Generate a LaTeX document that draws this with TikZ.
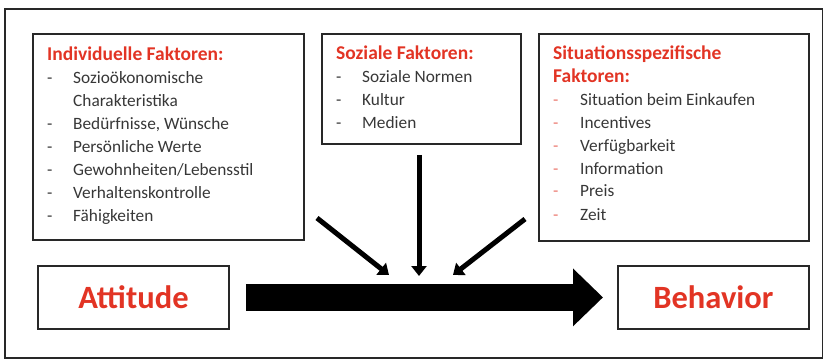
\documentclass[tikz,border=0pt]{standalone}
\usepackage{fontspec}
\setmainfont{Carlito}
\usetikzlibrary{arrows.meta}
\definecolor{fred}{RGB}{226,52,36}
\definecolor{ftxt}{RGB}{55,55,55}
\definecolor{fline}{RGB}{40,40,40}
\definecolor{fdash}{RGB}{235,120,110}
\newcommand{\hd}[1]{\textcolor{fred}{\fontsize{19.5}{23}\selectfont\bfseries #1}}
\begin{document}
\begin{tikzpicture}[x=1pt,y=-1pt,
  framebox/.style={draw=fline,line width=1.8pt,rectangle,inner sep=0pt,anchor=north west},
  listtext/.style={anchor=base west,inner sep=0pt,text=ftxt,font=\fontsize{17.3}{23}\selectfont},
  bigtext/.style={text=fred,font=\fontsize{32.5}{40}\selectfont\bfseries},
  infl/.style={draw=black,line width=5pt,-{Triangle[length=10pt,width=15pt]}},
  mainarrow/.style={draw=black,line width=27pt,-{Triangle[length=30pt,width=56pt]}}]

\useasboundingbox (0,0) rectangle (823,359);
\node[framebox,line width=2pt,minimum width=818pt,minimum height=349pt] (frame) at (4,8) {};

% factor boxes
\node[framebox,minimum width=271pt,minimum height=206pt] (ind) at (32,33) {};
\node[framebox,minimum width=199pt,minimum height=110pt] (soz) at (321,33) {};
\node[framebox,minimum width=270pt,minimum height=207pt] (sit) at (538,33) {};

\node[listtext] (indtxt) at (47,60) {\renewcommand{\arraystretch}{1}%
\begin{tabular}[t]{@{}p{26pt}@{}l@{}}
\multicolumn{2}{@{}l@{}}{\hd{Individuelle Faktoren:}}\\
- & Sozioökonomische\\
  & Charakteristika\\
- & Bedürfnisse, Wünsche\\
- & Persönliche Werte\\
- & Gewohnheiten/Lebensstil\\
- & Verhaltenskontrolle\\
- & Fähigkeiten
\end{tabular}};

\node[listtext] (soztxt) at (336,59) {\renewcommand{\arraystretch}{1}%
\begin{tabular}[t]{@{}p{26pt}@{}l@{}}
\multicolumn{2}{@{}l@{}}{\hd{Soziale Faktoren:}}\\
- & Soziale Normen\\
- & Kultur\\
- & Medien
\end{tabular}};

\node[listtext] (sittxt) at (553,59) {\renewcommand{\arraystretch}{1}%
\begin{tabular}[t]{@{}p{27pt}@{}l@{}}
\multicolumn{2}{@{}l@{}}{\hd{Situationsspezifische}}\\
\multicolumn{2}{@{}l@{}}{\hd{Faktoren:}}\\
\textcolor{fdash}{-} & Situation beim Einkaufen\\
\textcolor{fdash}{-} & Incentives\\
\textcolor{fdash}{-} & Verfügbarkeit\\
\textcolor{fdash}{-} & Information\\
\textcolor{fdash}{-} & Preis\\
\textcolor{fdash}{-} & Zeit
\end{tabular}};

% attitude / behavior
\node[framebox,minimum width=191pt,minimum height=63pt] (att) at (37,265) {};
\node[bigtext] (atttxt) at (att.center) {Attitude};
\node[framebox,minimum width=191pt,minimum height=63pt] (beh) at (617,265) {};
\node[bigtext] (behtxt) at (beh.center) {Behavior};

% main arrow
\draw[mainarrow] ([xshift=16pt]att.east) -- ([xshift=-14pt]beh.west);

% influence arrows
\coordinate (lstart) at (317,218);
\coordinate (ltip) at (389,275);
\coordinate (rstart) at (525,219);
\coordinate (rtip) at (453,275);
\coordinate (mtip) at (419,276);
\draw[infl] (lstart) -- (ltip);
\draw[infl] ([yshift=-10pt]soz.south -| mtip) -- (mtip);
\draw[infl] (rstart) -- (rtip);
\end{tikzpicture}
\end{document}
